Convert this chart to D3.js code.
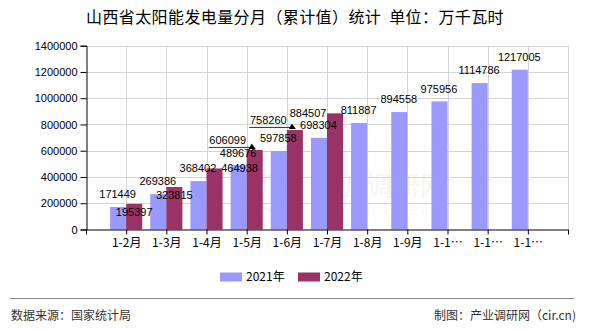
<!DOCTYPE html>
<html><head><meta charset="utf-8">
<script src="https://cdn.jsdelivr.net/npm/d3@7"></script>
<style>
body{margin:0;background:#fff;}
svg{display:block;}
</style></head>
<body>
<svg id="c" width="590" height="330"></svg>
<script>
const title = "山西省太阳能发电量分月（累计值）统计  单位：万千瓦时";
const categories = ["1-2月","1-3月","1-4月","1-5月","1-6月","1-7月","1-8月","1-9月","1-10月","1-11月","1-12月"];
const seriesNames = ["2021年","2022年"];
const values2021 = [171449,269386,368402,489676,597858,698304,811887,894558,975956,1114786,1217005];
const values2022 = [195397,323815,464938,606099,758260,884507];
const yTicks = [0,200000,400000,600000,800000,1000000,1200000,1400000];
const colors = ["#9999ff","#993366"];
// label placement nudges for 2022 labels (dx, dy relative to bar centre / top, leader flag)
const nudge2022 = [[0,8,0],[0,8,0],[25,0,0],[-27,-10,1],[-26.5,-10,1],[-27,0,0]];
const source = "数据来源：国家统计局";
const maker = "制图：产业调研网（cir.cn)";

const svg = d3.select("#c");
const L = 86, R = 568, T = 45.7, B = 229.5;
const x = d3.scalePoint().domain(categories).range([L, R]).padding(1);
const step = x.step();
const y = d3.scaleLinear().domain([0, 1400000]).range([B, T]);
const bw = step * 0.4;
const cjk = "'Noto Sans CJK SC', sans-serif";
const num = "'Liberation Sans', Arial, sans-serif";

// watermark
const wm = svg.append("g").attr("opacity", 0.05).attr("fill", "#c0392b");
wm.append("circle").attr("cx", 275).attr("cy", 193).attr("r", 17).attr("fill","none").attr("stroke","#c0392b").attr("stroke-width",5);
wm.append("text").attr("x", 312).attr("y", 196).attr("font-size", 27).attr("font-family", cjk).text("产业调研网");
wm.append("text").attr("x", 322).attr("y", 215).attr("font-size", 11).attr("letter-spacing", 6).attr("font-family", num).text("www.cir.cn");

// grid
const grid = svg.append("g").attr("stroke", "#d4d4d4").attr("stroke-width", 1);
grid.selectAll("line.h").data(yTicks.slice(1)).join("line")
  .attr("x1", L).attr("x2", R).attr("y1", d => Math.round(y(d)) + 0.5).attr("y2", d => Math.round(y(d)) + 0.5);
const vlines = d3.range(categories.length + 2).map(k => L + k * step);
grid.selectAll("line.v").data(vlines.slice(1)).join("line")
  .attr("x1", d => Math.round(d) + 0.5).attr("x2", d => Math.round(d) + 0.5).attr("y1", T).attr("y2", B);

// bars
svg.append("g").selectAll("rect").data(values2021).join("rect")
  .attr("x", (d,i) => x(categories[i]) - bw).attr("width", bw)
  .attr("y", d => y(d)).attr("height", d => B - y(d)).attr("fill", colors[0]);
svg.append("g").selectAll("rect").data(values2022).join("rect")
  .attr("x", (d,i) => x(categories[i])).attr("width", bw)
  .attr("y", d => y(d)).attr("height", d => B - y(d)).attr("fill", colors[1]);

// axes
const yAxis = d3.axisLeft(y).tickValues(yTicks).tickSize(6).tickPadding(3).tickFormat(d3.format("d"));
const gy = svg.append("g").attr("transform", `translate(${L+0.5},0)`).call(yAxis);
gy.select(".domain").attr("stroke", "#000");
gy.selectAll(".tick line").attr("stroke", "#000");
gy.selectAll("text").attr("font-family", num).attr("font-size", 11).attr("fill", "#000");

const xAxis = d3.axisBottom(x).tickSize(5).tickSizeOuter(0).tickPadding(4)
  .tickFormat(d => d.length > 4 ? d.slice(0,3) + "…" : d);
const gx = svg.append("g").attr("transform", `translate(0,${B})`).call(xAxis);
gx.select(".domain").attr("stroke", "#000").attr("d", `M${L},0.5H${R}`);
gx.selectAll(".tick line").attr("stroke", "#000");
gx.selectAll("text").attr("font-family", cjk).attr("font-size", 12).attr("fill", "#000");
// boundary ticks
svg.append("g").selectAll("line").data([L, R]).join("line")
  .attr("x1", d => d + 0.5).attr("x2", d => d + 0.5).attr("y1", B).attr("y2", B + 5).attr("stroke", "#000");

// data labels 2021
svg.append("g").selectAll("text").data(values2021).join("text")
  .attr("x", (d,i) => x(categories[i]) - bw/2 - 0.5)
  .attr("y", d => y(d) - 12.5).attr("dy", "0.35em")
  .attr("text-anchor", "middle").attr("font-family", num).attr("font-size", 11).attr("fill", "#000")
  .text(d => d);

// data labels 2022
const lab = svg.append("g");
values2022.forEach((d, i) => {
  const cx = x(categories[i]) + bw/2, top = y(d);
  const [dx, dy, lead] = nudge2022[i];
  lab.append("text").attr("x", cx + dx).attr("y", top + dy).attr("dy", "0.35em")
    .attr("text-anchor", "middle").attr("font-family", num).attr("font-size", 11).attr("fill", "#000").text(d);
  if (lead) {
    const ly = top - 2.5, x0 = cx + dx - 19, x1 = cx - 3;
    lab.append("line").attr("x1", x0).attr("x2", x1).attr("y1", ly).attr("y2", ly).attr("stroke", "#333").attr("stroke-width", 1);
    lab.append("path").attr("d", `M${x1-3},${ly+1.5}L${x1},${ly-4}L${x1+4},${ly+1.5}Z`).attr("fill", "#000");
  }
});

// title
svg.append("text").attr("x", 295).attr("y", 23).attr("text-anchor", "middle")
  .attr("font-family", cjk).attr("font-size", 16).attr("letter-spacing", 0.4).attr("fill", "#000").attr("xml:space","preserve").text(title);

// legend
const lg = svg.append("g");
seriesNames.forEach((s, i) => {
  const lx = 220 + i * 78;
  lg.append("rect").attr("x", lx).attr("y", 272.5).attr("width", 22).attr("height", 9).attr("fill", colors[i]);
  lg.append("text").attr("x", lx + 26).attr("y", 277).attr("dy", "0.35em").attr("font-family", cjk)
    .attr("font-size", 12).attr("fill", "#000").text(s);
});

// footer
svg.append("line").attr("x1", 10).attr("x2", 574).attr("y1", 298.5).attr("y2", 298.5).attr("stroke", "#888").attr("stroke-width", 1);
svg.append("text").attr("x", 11).attr("y", 316).attr("dy", "0.35em").attr("font-family", cjk).attr("font-size", 12).attr("fill", "#333").text(source);
svg.append("text").attr("x", 576).attr("y", 316).attr("dy", "0.35em").attr("text-anchor", "end").attr("font-family", cjk).attr("font-size", 12).attr("fill", "#333").text(maker);
</script>
</body></html>
